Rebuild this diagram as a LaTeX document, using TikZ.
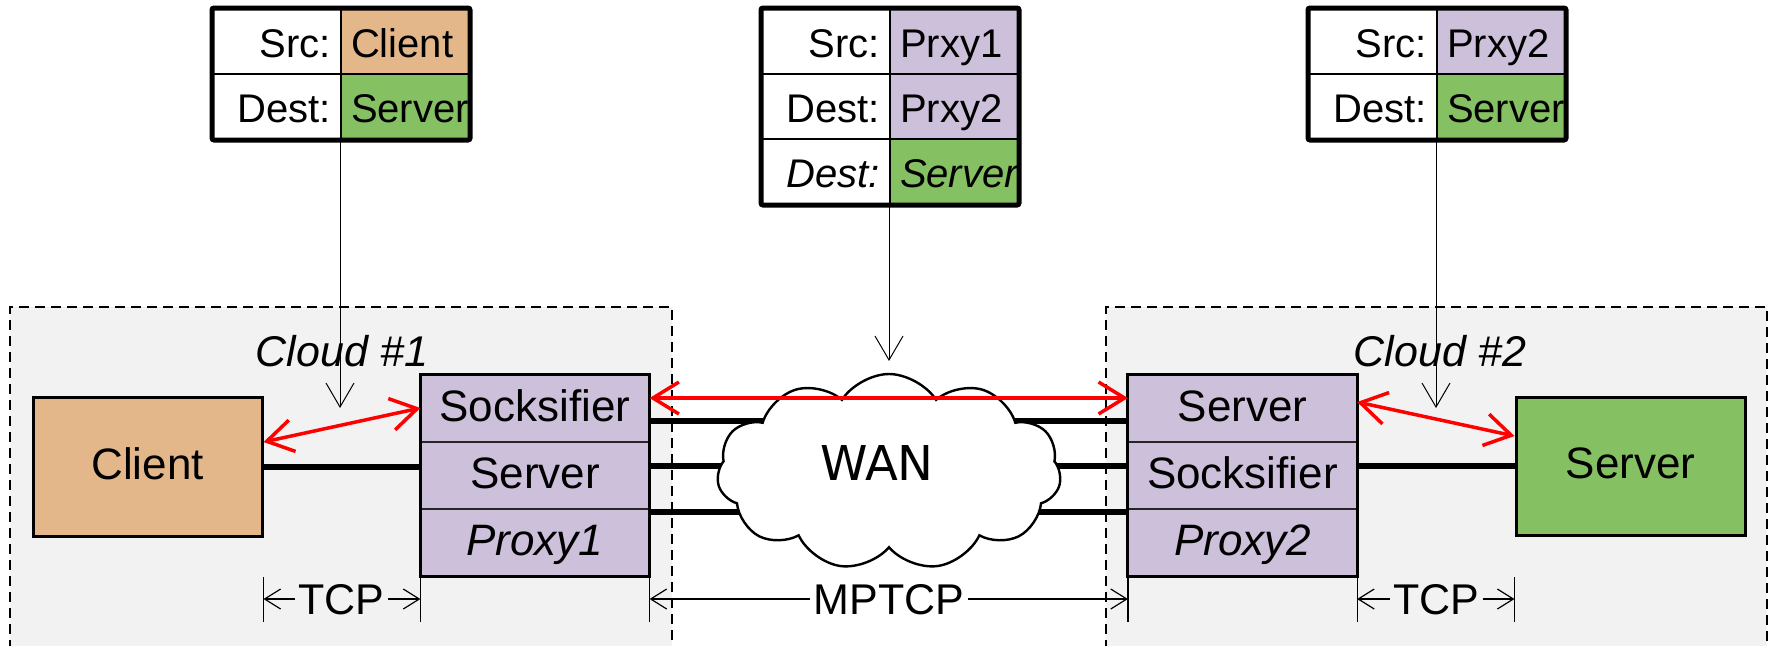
\documentclass[tikz,border=0pt]{standalone}
\usepackage{fontspec}
\setmainfont{Liberation Sans}
\newfontfamily\wanfont{DejaVu Sans}
\usetikzlibrary{arrows.meta,shapes.symbols}
\definecolor{lav}{HTML}{CCC0DA}
\definecolor{clienttan}{HTML}{E3B78A}
\definecolor{srvgreen}{HTML}{85C063}
\definecolor{bggray}{HTML}{F2F2F2}
\begin{document}
\begin{tikzpicture}[x=0.5pt,y=-0.5pt,
  bigtxt/.style={font=\fontsize{22}{26}\selectfont},
  bigit/.style={font=\fontsize{21.5}{25}\selectfont\itshape},
  region/.style={draw=black, line width=1pt, dash pattern=on 5pt off 3pt},
  box/.style={draw=black, line width=1.5pt, inner sep=0pt, text height=15.7pt, text depth=3pt, bigtxt},
  stackcell/.style={draw=black!85, line width=0.6pt, fill=lav, minimum width=114pt, minimum height=33.5pt, inner sep=0pt, text height=15.7pt, text depth=3pt, bigtxt},
  stackframe/.style={draw=black, line width=1.5pt},
  tcell/.style={draw=black, line width=1pt, minimum height=32.5pt, text width=54pt, inner xsep=5pt, inner ysep=0pt, text height=16.3pt, text depth=0pt, font=\fontsize{20}{24}\selectfont},
  lcell/.style={tcell, fill=white, align=right},
  rcell/.style={tcell, align=left},
  tframe/.style={draw=black, line width=2.5pt, rounded corners=1pt},
  wire/.style={draw=black, line width=3pt},
  redarr/.style={draw=red, line width=1.75pt, {Straight Barb[length=13pt,width=16pt]}-{Straight Barb[length=13pt,width=16pt]}},
  pointer/.style={draw=black, line width=0.5pt, -{Straight Barb[length=12pt,width=14pt]}},
  dimtick/.style={draw=black, line width=0.6pt},
  dimarr/.style={draw=black, line width=0.6pt, -{Straight Barb[length=8pt,width=10pt]}},
  dimtxt/.style={font=\fontsize{21.5}{25}\selectfont, inner sep=1.5pt, text height=15.4pt, text depth=0pt}
]
\useasboundingbox (0,0) rectangle (1773,645);

% cloud regions
\fill[bggray] (10,307) rectangle (672,650);
\draw[region] (10,650) -- (10,307) -- (672,307) -- (672,650);
\fill[bggray] (1106,307) rectangle (1767,650);
\draw[region] (1106,650) -- (1106,307) -- (1767,307) -- (1767,650);
\node[bigit] (c1lbl) at (342,351) {Cloud \#1};
\node[bigit] (c2lbl) at (1440,351) {Cloud \#2};

% nodes
\node[box, fill=clienttan, minimum width=114.5pt, minimum height=69.5pt] (client) at (147.5,466.5) {Client};
\node[box, fill=srvgreen, minimum width=114.5pt, minimum height=69pt] (server) at (1630.5,466) {Server};

\node[stackcell] (p1a) at (535,408.5) {Socksifier};
\node[stackcell] (p1b) at (535,475.5) {Server};
\node[stackcell, font=\fontsize{22}{26}\selectfont\itshape] (p1c) at (535,542.5) {Proxy1};
\node[stackcell] (p2a) at (1242.5,408.5) {Server};
\node[stackcell] (p2b) at (1242.5,475.5) {Socksifier};
\node[stackcell, font=\fontsize{22}{26}\selectfont\itshape] (p2c) at (1242.5,542.5) {Proxy2};

% wires (behind cloud)
\draw[wire] (client.east) -- (client.east -| p1b.west);
\draw[wire] (p1a.east |- 0,421) -- (p2a.west |- 0,421);
\draw[wire] (p1b.east |- 0,466) -- (p2b.west |- 0,466);
\draw[wire] (p1c.east |- 0,512) -- (p2c.west |- 0,512);
\draw[wire] (p2b.east |- server.west) -- (server.west);

\node[cloud, cloud puffs=11, cloud puff arc=115, aspect=1.75, draw=black, fill=white, line width=1.2pt,
      minimum width=172pt, minimum height=98pt, inner sep=0pt, text height=17.5pt, text depth=9pt,
      font=\wanfont\fontsize{24}{28}\selectfont] (wan) at (889,472) {\kern-12pt WAN};

% redraw stack frames on top of wires
\draw[stackframe] (p1a.north west) rectangle (p1c.south east);
\draw[stackframe] (p2a.north west) rectangle (p2c.south east);

% tables
\node[lcell] (t1a) at (277,41.5) {Src:};
\node[rcell, fill=clienttan] (t1b) at (405,41.5) {Client};
\node[lcell] (t1c) at (277,106.5) {Dest:};
\node[rcell, fill=srvgreen] (t1d) at (405,106.5) {Server};
\draw[tframe] (t1a.north west) rectangle (t1d.south east);

\node[lcell] (t2a) at (826,41.5) {Src:};
\node[rcell, fill=lav] (t2b) at (954,41.5) {Prxy1};
\node[lcell] (t2c) at (826,106.5) {Dest:};
\node[rcell, fill=lav] (t2d) at (954,106.5) {Prxy2};
\node[lcell, font=\fontsize{20}{24}\selectfont\itshape] (t2e) at (826,171.5) {Dest:};
\node[rcell, fill=srvgreen, font=\fontsize{20}{24}\selectfont\itshape] (t2f) at (954,171.5) {Server};
\draw[tframe] (t2a.north west) rectangle (t2f.south east);

\node[lcell] (t3a) at (1373,41.5) {Src:};
\node[rcell, fill=lav] (t3b) at (1501,41.5) {Prxy2};
\node[lcell] (t3c) at (1373,106.5) {Dest:};
\node[rcell, fill=srvgreen] (t3d) at (1501,106.5) {Server};
\draw[tframe] (t3a.north west) rectangle (t3d.south east);

% pointers
\coordinate (tip1) at (t1d.south west |- 0,408);
\coordinate (tip2) at (t2f.south west |- 0,361);
\coordinate (tip3) at (t3d.south west |- 0,408);
\draw[pointer] (t1d.south west) -- (tip1);
\draw[pointer] (t2f.south west) -- (tip2);
\draw[pointer] (t3d.south west) -- (tip3);

% red arrows
\draw[redarr] (client.east |- 0,442) -- (p1a.west |- 0,408);
\draw[redarr] (p1a.east |- 0,398) -- (p2a.west |- 0,398);
\draw[redarr] (p2a.east |- 0,402) -- (server.west |- 0,436);

% dimension lines
\draw[dimtick] (client.east |- 0,577) -- (client.east |- 0,622);
\draw[dimtick] (p1c.south west) -- (p1c.south west |- 0,622);
\draw[dimtick] (p1c.south east) -- (p1c.south east |- 0,622);
\draw[dimtick] (p2c.south west) -- (p2c.south west |- 0,622);
\draw[dimtick] (p2c.south east) -- (p2c.south east |- 0,622);
\draw[dimtick] (server.west |- 0,577) -- (server.west |- 0,622);

\node[dimtxt] (tcp1) at (341.5,599) {TCP};
\node[dimtxt] (mptcp) at (889,599) {MPTCP};
\node[dimtxt] (tcp2) at (1436.5,599) {TCP};
\draw[dimarr] (tcp1.west) -- (client.east |- tcp1.west);
\draw[dimarr] (tcp1.east) -- (p1c.west |- tcp1.east);
\draw[dimarr] (mptcp.west) -- (p1c.east |- mptcp.west);
\draw[dimarr] (mptcp.east) -- (p2c.west |- mptcp.east);
\draw[dimarr] (tcp2.west) -- (p2c.east |- tcp2.west);
\draw[dimarr] (tcp2.east) -- (server.west |- tcp2.east);
\end{tikzpicture}
\end{document}
